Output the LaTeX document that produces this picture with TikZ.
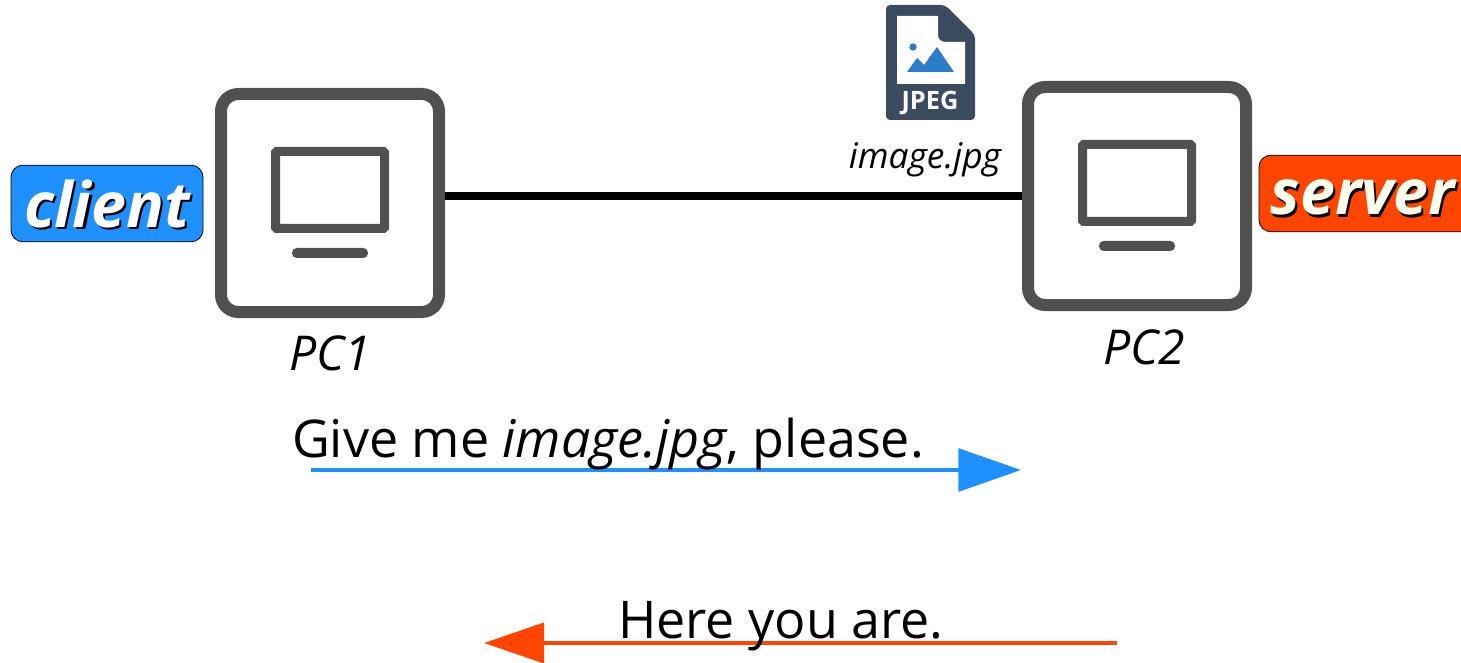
\documentclass[tikz,border=0pt]{standalone}
\usepackage{fontspec}
\setmainfont{Open Sans}
\newfontfamily\jpegfont{Open Sans}
\usetikzlibrary{arrows.meta}
\definecolor{boxgray}{HTML}{505050}
\definecolor{clientblue}{HTML}{1E90FF}
\definecolor{serverorange}{HTML}{FF4500}
\definecolor{filedark}{HTML}{3A4A5F}
\definecolor{fileblue}{HTML}{2B7CC9}
\definecolor{servertext}{HTML}{FFFFF0}
\newcommand{\shadowed}[2]{\makebox[0pt][l]{\kern1.6pt\raisebox{-2.2pt}{\color{black}#1}}{\color{#2}#1}}
\tikzset{
  x=0.75pt,y=-0.75pt,
  pcbox/.style={draw=boxgray,line width=9pt,rounded corners=13pt,fill=white,minimum width=163.5pt,minimum height=163.5pt,inner sep=0pt,outer sep=4.5pt},
  screen/.style={draw=boxgray,line width=6.75pt,rounded corners=1pt,fill=white,inner sep=0pt,minimum width=81.75pt,minimum height=57.75pt},
  standbar/.style={fill=boxgray,rounded corners=3.5pt,inner sep=0pt,minimum width=57pt,minimum height=7.5pt},
  rolebox/.style={draw=black,line width=0.6pt,rounded corners=9pt,inner sep=0pt,minimum height=57.5pt},
  rolelabel/.style={font=\fontsize{47}{56}\selectfont\bfseries\itshape,inner sep=0pt},
  handtext/.style={font=\fontsize{39}{46}\selectfont,text=black,inner sep=0pt},
  pclabel/.style={font=\fontsize{36}{42}\selectfont\itshape,text=black,inner sep=0pt},
  link/.style={line width=5.5pt,draw=black},
  reqarrow/.style={draw=clientblue,line width=3pt,-{Triangle[length=47pt,width=32pt,fill=clientblue]}},
  resarrow/.style={draw=serverorange,line width=3pt,-{Triangle[length=45pt,width=30pt,fill=serverorange]}}
}
\begin{document}
\begin{tikzpicture}
\useasboundingbox (0,0) rectangle (1461,663);
% PCs
\node[pcbox] (pc1) at (330,203) {};
\node[pcbox] (pc2) at (1137,196) {};
\node[screen] (scr1) at (330,190) {};
\node[screen] (scr2) at (1137,183) {};
\node[standbar] (bar1) at (330,253) {};
\node[standbar] (bar2) at (1137,246) {};
\draw[link] (pc1.east |- pc2.west) -- (pc2.west);
% Role boxes
\node[rolebox,fill=clientblue,minimum width=144pt] (client) at (107,203.5) {};
\node[rolebox,fill=serverorange,minimum width=180pt] (server) at (1379,193.5) {};
\node[rolelabel] (clientl) at (107,205) {\shadowed{client}{white}};
\node[rolelabel] (serverl) at (1363,199) {\shadowed{server}{servertext}};
% Labels
\node[pclabel] (l1) at (330,353) {PC1};
\node[pclabel] (l2) at (1144,347) {PC2};
\node[font=\fontsize{26.5}{30}\selectfont\itshape,inner sep=0pt] (imgl) at (925,160) {image.jpg};
% File icon
\fill[filedark,rounded corners=3pt] (886,5) -- (945,5) -- (975,35) -- (975,120) -- (886,120) -- cycle;
\fill[white] (897,16) -- (938,16) -- (938,34) .. controls (938,40) and (941,42) .. (947,42) -- (965,42) -- (965,84) -- (897,84) -- cycle;
\fill[fileblue] (913,47) circle (3.7);
\fill[fileblue] (907,72) -- (917,58) -- (924,65) -- (937,47) -- (954,72) -- cycle;
\node[font=\fontsize{19}{22}\jpegfont\bfseries,text=white,inner sep=0pt] (jpeg) at (930,103) {JPEG};
% Messages
\coordinate (reqa) at (311,470);
\coordinate (reqb) at (1021,470);
\coordinate (resa) at (1117,643);
\coordinate (resb) at (484,643);
\draw[reqarrow] (reqa) -- (reqb);
\draw[resarrow] (resa) -- (resb);
\node[handtext] (req) at (608,444) {Give me \textit{image.jpg}, please.};
\node[handtext] (res) at (781,626) {Here you are.};
\end{tikzpicture}
\end{document}
